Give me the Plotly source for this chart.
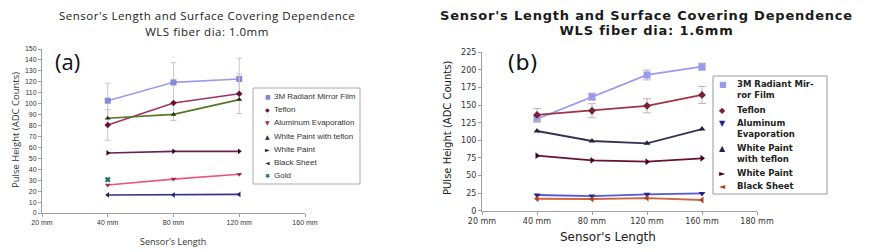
import plotly.graph_objects as go

# ---------------- data ----------------
cats_a = ["20 mm", "40 mm", "80 mm", "120 mm", "160 mm"]
cats_b = ["20 mm", "40 mm", "80 mm", "120 mm", "160 mm", "180 mm"]
x_a = ["40 mm", "80 mm", "120 mm"]
x_b = ["40 mm", "80 mm", "120 mm", "160 mm"]

title_a = ["Sensor's Length and Surface Covering Dependence", "WLS fiber dia: 1.0mm"]
title_b = ["Sensor's Length and Surface Covering Dependence", "WLS fiber dia: 1.6mm"]

names_a = ["3M Radiant Mirror Film", "Teflon", "Aluminum Evaporation",
           "White Paint with teflon", "White Paint", "Black Sheet", "Gold"]
mirror_a = [102.7, 119.5, 122.6]
mirror_a_err = [16, 18, 19]
teflon_a = [80.5, 100.6, 109.0]
teflon_a_err = [14, 16, 18]
alum_a = [25.6, 31.0, 35.4]
wpt_a = [86.6, 90.2, 103.7]
wp_a = [54.9, 56.4, 56.4]
black_a = [16.5, 16.5, 17.0]
gold_x_a = ["40 mm"]
gold_a = [30.5]

names_b = [["3M Radiant Mir-", "ror Film"], ["Teflon"], ["Aluminum", "Evaporation"],
           ["White Paint", "with teflon"], ["White Paint"], ["Black Sheet"]]
mirror_b = [130.3, 162.0, 192.8, 204.6]
mirror_b_err = [4, 5, 7, 5]
teflon_b = [136.0, 142.0, 149.0, 164.4]
teflon_b_err = [9, 10, 10, 12]
alum_b = [22.3, 20.8, 23.2, 24.6]
wpt_b = [113.2, 99.0, 95.7, 116.0]
wp_b = [78.2, 71.5, 69.6, 74.4]
black_b = [17.0, 16.6, 18.0, 15.2]

# page places the figure 8px in from the corner, so map reference pixels accordingly
OFF = 8
W, H = 872 - OFF, 252 - OFF
def px(x): return (x - OFF) / W
def py(y): return (252 - y) / H

fig = go.Figure()

# ---------------- chart (a) ----------------
series_a = [
    (names_a[0], x_a, mirror_a, mirror_a_err, "#9b9bee", "#8888dd", "square", 6),
    (names_a[1], x_a, teflon_a, teflon_a_err, "#a03366", "#661133", "diamond", 5),
    (names_a[2], x_a, alum_a, None, "#ee5577", "#993344", "triangle-down", 5),
    (names_a[3], x_a, wpt_a, None, "#557722", "#223311", "triangle-up", 5),
    (names_a[4], x_a, wp_a, None, "#662255", "#330022", "triangle-right", 5),
    (names_a[5], x_a, black_a, None, "#333388", "#222266", "triangle-left", 5),
    (names_a[6], gold_x_a, gold_a, None, "#338888", "#116666", "x", 5),
]
for name, xs, ys, err, lc, mc, sym, ms in series_a:
    fig.add_trace(go.Scatter(
        x=xs, y=ys, name=name, mode="lines+markers", showlegend=False,
        xaxis="x", yaxis="y",
        line=dict(color=lc, width=1.6),
        marker=dict(symbol=sym, size=ms, color=mc),
        error_y=(dict(type="data", array=err, visible=True, color="#c8c8c8",
                      thickness=1, width=3) if err else None),
    ))

# ---------------- chart (b) ----------------
series_b = [
    (names_b[0], mirror_b, mirror_b_err, "#9b9bee", "#9999ee", "square", 7),
    (names_b[1], teflon_b, teflon_b_err, "#a03344", "#772233", "diamond", 6),
    (names_b[2], alum_b, None, "#5555dd", "#222288", "triangle-down", 6),
    (names_b[3], wpt_b, None, "#333355", "#222244", "triangle-up", 6),
    (names_b[4], wp_b, None, "#661133", "#440022", "triangle-right", 6),
    (names_b[5], black_b, None, "#cc6644", "#aa4422", "triangle-left", 6),
]
for name, ys, err, lc, mc, sym, ms in series_b:
    fig.add_trace(go.Scatter(
        x=x_b, y=ys, name=" ".join(name), mode="lines+markers", showlegend=False,
        xaxis="x2", yaxis="y2",
        line=dict(color=lc, width=1.8),
        marker=dict(symbol=sym, size=ms, color=mc),
        error_y=(dict(type="data", array=err, visible=True, color="#b8b8b8",
                      thickness=1, width=4) if err else None),
    ))

axis_common = dict(showgrid=False, zeroline=False, showline=True, automargin=False,
                   linecolor="#a0a0a0", linewidth=1, ticks="outside",
                   ticklen=3, tickcolor="#a0a0a0")

fig.update_layout(
    width=W, height=H,
    margin=dict(l=0, r=0, t=0, b=0, autoexpand=False),
    paper_bgcolor="white", plot_bgcolor="white",
    showlegend=False,
    xaxis=dict(axis_common, domain=[px(42), px(305)], type="category",
               categoryorder="array", categoryarray=cats_a, range=[0, 4],
               tickfont=dict(family="Liberation Sans", size=7, color="#333"),
               anchor="y"),
    yaxis=dict(axis_common, domain=[py(213), py(49)], range=[0, 150], dtick=10,
               tickfont=dict(family="Liberation Sans", size=7, color="#333"),
               anchor="x"),
    xaxis2=dict(axis_common, domain=[px(482), px(757)], type="category",
                categoryorder="array", categoryarray=cats_b, range=[0, 5],
                tickfont=dict(family="DejaVu Sans", size=8, color="#333"),
                anchor="y2"),
    yaxis2=dict(axis_common, domain=[py(210.7), py(52.3)], range=[0, 225], dtick=25,
                tickfont=dict(family="DejaVu Sans", size=8, color="#333"),
                anchor="x2"),
)

def A(x, y, text, font, **kw):
    d = dict(x=px(x), y=py(y), xref="paper", yref="paper", showarrow=False,
             xanchor="center", yanchor="middle", text=text, font=font)
    d.update(kw)
    return d

ann = []
# titles: base size sets the line pitch, inner span sets glyph size and tracking
ann.append(A(207, 23, "<br>".join(
    f"<span style='font-size:11.5px;letter-spacing:0.5px'>{t}</span>" for t in title_a),
    dict(family="Open Sans", size=12.1, color="#1a1a1a"), borderpad=0))
ann.append(A(646, 23, "<br>".join(
    f"<span style='font-size:13px;letter-spacing:0.8px'><b>{t}</b></span>" for t in title_b),
    dict(family="DejaVu Sans", size=11.9, color="#1a1a1a"), borderpad=0))
ann.append(A(67, 61, "(a)", dict(family="Open Sans", size=22, color="#111")))
ann.append(A(522, 63, "(b)", dict(family="DejaVu Sans", size=22, color="#111")))
ann.append(A(15, 130, "Pulse Height (ADC Counts)",
             dict(family="Open Sans", size=9.5, color="#333"), textangle=-90))
ann.append(A(173, 241, "Sensor's Length", dict(family="Open Sans", size=9, color="#333")))
ann.append(A(447, 128, "PUlse Height (ADC Counts)",
             dict(family="DejaVu Sans", size=10, color="#222"), textangle=-90))
ann.append(A(608, 237, "Sensor's Length", dict(family="DejaVu Sans", size=12, color="#222")))

# legend (a) as text entries
symbols_a = ["■", "◆", "▼", "▲", "►", "◄", "✖"]
for i, (s, nm) in enumerate(zip(symbols_a, names_a)):
    color = series_a[i][5]
    yc = 96.5 + i * 13.2
    ann.append(A(263, yc, f"<span style='color:{color}'>{s}</span>",
                 dict(family="DejaVu Sans", size=6), xanchor="left"))
    ann.append(A(272, yc, nm, dict(family="Liberation Sans", size=8, color="#333"),
                 xanchor="left"))

# legend (b) as text entries
symbols_b = ["■", "◆", "▼", "▲", "►", "◄"]
first_line_y = [84, 110, 123, 148, 173, 186]
for i, (s, lines) in enumerate(zip(symbols_b, names_b)):
    color = series_b[i][4]
    y0 = first_line_y[i]
    ann.append(A(717, y0, f"<span style='color:{color}'>{s}</span>",
                 dict(family="DejaVu Sans", size=8), xanchor="left"))
    txt = "<br>".join(f"<b>{ln}</b>" for ln in lines)
    ann.append(A(735, y0 + 5.5 * (len(lines) - 1), txt,
                 dict(family="DejaVu Sans", size=8.5, color="#222"), xanchor="left",
                 align="left"))

fig.update_layout(annotations=ann,
                  shapes=[dict(type="rect", xref="paper", yref="paper",
                               x0=px(253), x1=px(360), y0=py(184), y1=py(88),
                               line=dict(color="#aaaaaa", width=1)),
                          dict(type="rect", xref="paper", yref="paper",
                               x0=px(713), x1=px(827), y0=py(194), y1=py(76),
                               line=dict(color="#999999", width=1))])

fig.write_html("out.html")
